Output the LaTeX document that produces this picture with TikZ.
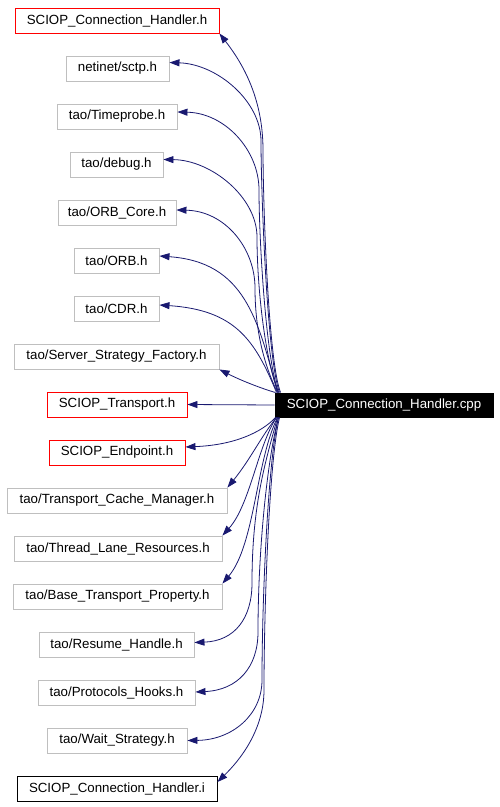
\documentclass[tikz,border=0pt]{standalone}
\usepackage{fontspec}
\setmainfont{Liberation Sans}
\usetikzlibrary{arrows.meta,calc}
\definecolor{edgeblue}{HTML}{191970}
\definecolor{greyb}{HTML}{BFBFBF}
\begin{document}
\begin{tikzpicture}[x=1pt,y=-1pt,
  file/.style={draw=greyb, line width=0.9pt, minimum height=25pt, inner sep=0pt, font=\fontsize{13.3}{16}\selectfont, text=black},
  redfile/.style={file, draw=red},
  blackfile/.style={file, draw=black},
  mainfile/.style={file, draw=black, fill=black, text=white, minimum height=24pt},
  dep/.style={draw=edgeblue, line width=0.8pt, -{Triangle[length=10pt,width=7pt]}}
]
\useasboundingbox (0,0) rectangle (500,807);
\node[redfile, minimum width=204pt] (t1) at (117,20.5) {SCIOP\_Connection\_Handler.h};
\node[file, minimum width=103pt] (t2) at (117.5,68.5) {netinet/sctp.h};
\node[file, minimum width=120pt] (t3) at (117,116.5) {tao/Timeprobe.h};
\node[file, minimum width=93pt] (t4) at (116.5,164.5) {tao/debug.h};
\node[file, minimum width=118pt] (t5) at (117,212.5) {tao/ORB\_Core.h};
\node[file, minimum width=85pt] (t6) at (116.5,260.5) {tao/ORB.h};
\node[file, minimum width=85pt] (t7) at (116.5,308.5) {tao/CDR.h};
\node[file, minimum width=205pt] (t8) at (116.5,356.5) {tao/Server\_Strategy\_Factory.h};
\node[redfile, minimum width=140pt] (t9) at (117,404.5) {SCIOP\_Transport.h};
\node[redfile, minimum width=136pt] (t10) at (117,452.5) {SCIOP\_Endpoint.h};
\node[file, minimum width=220pt] (t11) at (117,500.5) {tao/Transport\_Cache\_Manager.h};
\node[file, minimum width=208pt] (t12) at (118,548.5) {tao/Thread\_Lane\_Resources.h};
\node[file, minimum width=209pt] (t13) at (117.5,596.5) {tao/Base\_Transport\_Property.h};
\node[file, minimum width=155pt] (t14) at (116.5,644.5) {tao/Resume\_Handle.h};
\node[file, minimum width=157pt] (t15) at (116.5,692.5) {tao/Protocols\_Hooks.h};
\node[file, minimum width=140pt] (t16) at (117,740.5) {tao/Wait\_Strategy.h};
\node[blackfile, minimum width=200pt] (t17) at (117,788.5) {SCIOP\_Connection\_Handler.i};
\node[mainfile, minimum width=218pt] (cpp) at (384,405) {SCIOP\_Connection\_Handler.cpp};

\draw[dep] ($(cpp.north west)+(6,0)$) .. controls (268,360) and (263,200) .. (263,150) .. controls (263,95) and (240,60) .. (t1.south east);
\draw[dep] ($(cpp.north west)+(5,0)$) .. controls (267,360) and (261,190) .. (261,141) .. controls (261,101) and (217,64) .. ($(t2.east)+(0,-6)$);
\draw[dep] ($(cpp.north west)+(4,0)$) .. controls (266,360) and (259,240) .. (259,190) .. controls (259,150) and (225,113) .. ($(t3.east)+(0,-4.5)$);
\draw[dep] ($(cpp.north west)+(4,0)$) .. controls (265,360) and (257,287) .. (257,237) .. controls (257,197) and (211,160) .. ($(t4.east)+(0,-5)$);
\draw[dep] ($(cpp.north west)+(3,0)$) .. controls (264,365) and (255,330) .. (255,288) .. controls (255,248) and (225,211) .. ($(t5.east)+(0,-2.5)$);
\draw[dep] ($(cpp.north west)+(3,0)$) .. controls (258,320) and (245,262) .. ($(t6.east)+(0,-4.5)$);
\draw[dep] ($(cpp.north west)+(2,0)$) .. controls (255,340) and (235,310) .. ($(t7.east)+(0,-3.5)$);
\draw[dep] ($(cpp.north west)+(1,0)$) .. controls (260,388) and (240,380) .. (t8.south east);
\draw[dep] (cpp.west) -- (t9.east);
\draw[dep] ($(cpp.south west)+(1,0)$) .. controls (262,432) and (235,445) .. ($(t10.east)+(0,-5.5)$);
\draw[dep] ($(cpp.south west)+(2,0)$) .. controls (262,435) and (250,460) .. (t11.north east);
\draw[dep] ($(cpp.south west)+(2,0)$) .. controls (258,445) and (250,505) .. (t12.north east);
\draw[dep] ($(cpp.south west)+(3,0)$) .. controls (256,460) and (255,545) .. (t13.north east);
\draw[dep] ($(cpp.south west)+(3,0)$) .. controls (266,460) and (252,503) .. (252,583) .. controls (252,618) and (235,641) .. ($(t14.east)+(0,-2)$);
\draw[dep] ($(cpp.south west)+(4,0)$) .. controls (267,460) and (258,552) .. (258,632) .. controls (258,667) and (238,690) .. ($(t15.east)+(0,-0.5)$);
\draw[dep] ($(cpp.south west)+(4,0)$) .. controls (268,460) and (262,600) .. (262,680) .. controls (262,715) and (232,740) .. (t16.east);
\draw[dep] ($(cpp.south west)+(5,0)$) .. controls (269,460) and (264,610) .. (264,690) .. controls (264,730) and (240,760) .. ($(t17.east)+(0,-6.5)$);
\end{tikzpicture}
\end{document}
